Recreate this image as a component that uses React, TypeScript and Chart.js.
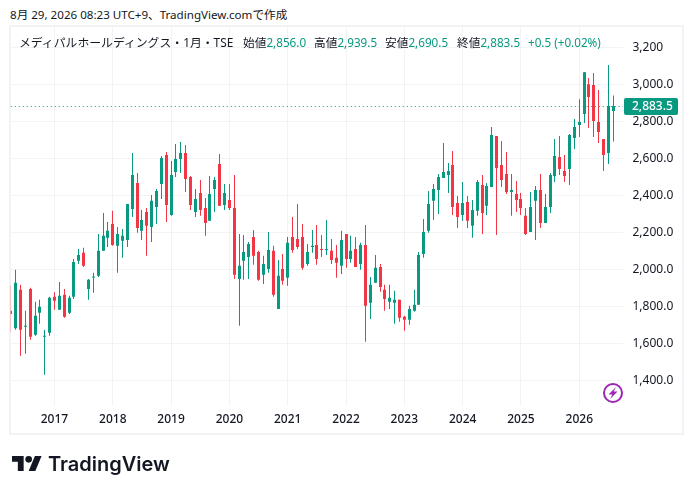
import { useEffect, useRef } from "react";
import { Chart, registerables } from "chart.js";

Chart.register(...registerables);

const UP = "#089981";
const DOWN = "#F23645";
const GRID = "#f2f3f5";
const TEXT = "#131722";

// monthly candles, Apr 2016 -> Aug 2026, two blank slots on the right
const months = [
  "2016-04","2016-05","2016-06","2016-07","2016-08","2016-09","2016-10","2016-11","2016-12",
  "2017-01","2017-02","2017-03","2017-04","2017-05","2017-06","2017-07","2017-08","2017-09","2017-10","2017-11","2017-12",
  "2018-01","2018-02","2018-03","2018-04","2018-05","2018-06","2018-07","2018-08","2018-09","2018-10","2018-11","2018-12",
  "2019-01","2019-02","2019-03","2019-04","2019-05","2019-06","2019-07","2019-08","2019-09","2019-10","2019-11","2019-12",
  "2020-01","2020-02","2020-03","2020-04","2020-05","2020-06","2020-07","2020-08","2020-09","2020-10","2020-11","2020-12",
  "2021-01","2021-02","2021-03","2021-04","2021-05","2021-06","2021-07","2021-08","2021-09","2021-10","2021-11","2021-12",
  "2022-01","2022-02","2022-03","2022-04","2022-05","2022-06","2022-07","2022-08","2022-09","2022-10","2022-11","2022-12",
  "2023-01","2023-02","2023-03","2023-04","2023-05","2023-06","2023-07","2023-08","2023-09","2023-10","2023-11","2023-12",
  "2024-01","2024-02","2024-03","2024-04","2024-05","2024-06","2024-07","2024-08","2024-09","2024-10","2024-11","2024-12",
  "2025-01","2025-02","2025-03","2025-04","2025-05","2025-06","2025-07","2025-08","2025-09","2025-10","2025-11","2025-12",
  "2026-01","2026-02","2026-03","2026-04","2026-05","2026-06","2026-07","2026-08","",""
];

const opens = [
  1776,1682,1889,1689,1894,1646,1765,1635,1657,
  1851,1781,1862,1765,1851,2046,2089,1894,1956,1965,2100,2170,
  2245,2127,2154,2159,2326,2467,2208,2310,2229,2337,2461,2618,
  2294,2526,2596,2629,2499,2310,2413,2332,2262,2434,2569,2348,
  2375,2332,1948,2046,2067,2175,2094,1970,2002,2100,1786,2002,
  1954,2175,2164,2175,2029,2121,2132,2110,2105,2100,2062,2019,
  2191,2056,2110,2029,2132,1819,1927,2013,1889,1824,1819,1835,
  1743,1727,1776,1808,2083,2208,2370,2429,2494,2510,2564,2359,
  2294,2364,2235,2316,2456,2343,2445,2721,2564,2515,2418,2407,
  2380,2289,2202,2370,2429,2251,2337,2505,2607,2532,2542,2710,
  2780,2839,3001,2996,2796,2704,2629,2856
];
const highs = [
  1911,1997,1916,1776,1900,1824,1835,1673,1851,
  1876,1932,1894,1857,2056,2110,2116,1948,1981,2191,2305,2256,
  2316,2229,2218,2353,2629,2521,2321,2332,2402,2434,2613,2634,
  2586,2677,2688,2672,2505,2434,2483,2386,2505,2499,2623,2461,
  2461,2510,2191,2186,2148,2213,2100,2073,2202,2127,2051,2083,
  2175,2283,2353,2245,2137,2213,2240,2186,2267,2164,2132,2208,
  2191,2181,2175,2143,2240,1959,2078,2029,1916,1916,1884,1835,
  1749,1803,1889,2094,2272,2424,2461,2515,2683,2575,2640,2397,
  2472,2397,2375,2483,2510,2467,2769,2721,2694,2634,2515,2478,
  2413,2332,2418,2451,2515,2407,2521,2704,2721,2618,2731,2812,
  2920,3066,3034,3061,2969,2704,3104,2939.5
];
const lows = [
  1659,1673,1533,1543,1619,1641,1705,1430,1641,
  1781,1781,1738,1759,1840,2029,2013,1835,1873,1959,2100,2121,
  2127,1981,2062,2121,2283,2197,2159,2073,2148,2245,2380,2256,
  2289,2499,2521,2418,2321,2283,2289,2181,2262,2310,2343,2321,
  2321,1948,1695,1943,1948,2024,1938,1921,1981,1851,1786,1916,
  1911,2089,2110,1997,2019,2089,2024,2067,2078,2029,1954,1975,
  2008,2035,2013,1997,1608,1732,1927,1878,1776,1786,1705,1716,
  1668,1700,1770,1808,2062,2197,2267,2299,2494,2413,2294,2224,
  2262,2224,2170,2289,2191,2294,2445,2186,2445,2407,2289,2310,
  2294,2186,2202,2159,2224,2251,2305,2472,2510,2472,2456,2650,
  2715,2791,2764,2715,2683,2532,2569,2690.5
];
const closes = [
  1759,1927,1673,1695,1635,1749,1797,1641,1846,
  1830,1857,1743,1846,2040,2078,2019,1943,1959,2100,2181,2208,
  2132,2191,2181,2353,2510,2224,2267,2235,2370,2424,2602,2348,
  2510,2596,2629,2488,2348,2380,2321,2251,2407,2483,2343,2413,
  2332,1970,2019,2094,2137,2073,1943,2029,2105,1862,1965,1938,
  2143,2105,2121,2008,2094,2127,2056,2105,2110,2051,2035,2159,
  2056,2100,2013,2132,1803,1916,2008,1905,1840,1846,1835,1738,
  1727,1786,1808,2078,2202,2353,2434,2499,2526,2532,2337,2283,
  2359,2262,2321,2472,2305,2451,2726,2548,2483,2418,2429,2375,
  2332,2191,2337,2429,2251,2337,2510,2613,2542,2505,2726,2769,
  2796,3066,2931,2802,2742,2618,2883,2883.5
];

const yTicks = [3200,3000,2800,2600,2400,2200,2000,1800,1600,1400];
const yLabels = ["3,200","3,000.0","2,800.0","2,600.0","2,400.0","2,200.0","2,000.0","1,800.0","1,600.0","1,400.0"];
const lastPrice = 2883.5;
const lastLabel = "2,883.5";

const legend = [
  { name: "始値", value: "2,856.0", left: 243 },
  { name: "高値", value: "2,939.5", left: 314 },
  { name: "安値", value: "2,690.5", left: 385 },
  { name: "終値", value: "2,883.5", left: 457 },
];

const font = '"Noto Sans", "Noto Sans CJK JP", sans-serif';

// snap candles to whole pixels like the original
const candleSnap = {
  id: "candleSnap",
  beforeDatasetsDraw(chart: any) {
    chart.data.datasets.forEach((_: any, i: number) => {
      chart.getDatasetMeta(i).data.forEach((el: any) => { el.x = Math.floor(el.x) + 0.5; });
    });
  },
};
// last price dotted line + tag
const lastPriceTag = {
  id: "lastPriceTag",
  afterDatasetsDraw(chart: any) {
    const { ctx, chartArea, scales } = chart;
    const y = Math.round(scales.y.getPixelForValue(lastPrice)) + 0.5;
    ctx.save();
    ctx.strokeStyle = UP;
    ctx.lineWidth = 1;
    ctx.setLineDash([1, 3]);
    ctx.beginPath();
    ctx.moveTo(chartArea.left, y);
    ctx.lineTo(chartArea.right, y);
    ctx.stroke();
    ctx.setLineDash([]);
    ctx.fillStyle = UP;
    ctx.beginPath();
    ctx.roundRect(chartArea.right + 1, y - 8.5, 54, 17, 2);
    ctx.fill();
    ctx.fillStyle = "#fff";
    ctx.font = `500 12px ${font}`;
    ctx.textBaseline = "middle";
    ctx.fillText(lastLabel, chartArea.right + 9, y + 0.5);
    ctx.restore();
  },
};

export default function App() {
  const canvasRef = useRef<HTMLCanvasElement | null>(null);

  useEffect(() => {
    if (!canvasRef.current) return;
    document.body.style.margin = "0";
    const colors = opens.map((o, i) => (closes[i] >= o ? UP : DOWN));
    const chart = new Chart(canvasRef.current, {
      type: "bar",
      data: {
        labels: months,
        datasets: [
          {
            label: "body",
            data: opens.map((o, i) => [o, closes[i]]) as any,
            backgroundColor: colors,
            barThickness: 3,
            minBarLength: 1,
            inflateAmount: 0,
            grouped: false,
          } as any,
          {
            label: "wick",
            data: lows.map((l, i) => [l, highs[i]]) as any,
            backgroundColor: colors,
            barThickness: 1,
            inflateAmount: 0,
            grouped: false,
          } as any,
        ],
      },
      options: {
        responsive: false,
        animation: false,
        events: [],
        layout: { padding: { left: 10.75, right: 0, top: 27, bottom: 60 } },
        plugins: { legend: { display: false }, tooltip: { enabled: false } },
        scales: {
          x: {
            offset: false,
            border: { display: false },
            grid: { color: GRID, drawTicks: false, offset: false },
            afterBuildTicks: (axis: any) => {
              axis.ticks = axis.ticks.filter((t: any) => months[t.value]?.endsWith("-01"));
            },
            afterFit: (axis: any) => { axis.height = 28; },
            ticks: {
              autoSkip: false,
              maxRotation: 0,
              padding: 6,
              color: TEXT,
              font: { family: font, size: 12, weight: 500 },
              callback: (v: any) => months[v].slice(0, 4),
            },
          },
          y: {
            position: "right",
            min: 1261,
            max: 3310,
            border: { display: false },
            grid: { color: GRID, drawTicks: false },
            afterBuildTicks: (axis: any) => {
              axis.ticks = yTicks.map((value) => ({ value }));
            },
            afterFit: (axis: any) => { axis.width = 70; },
            ticks: {
              padding: 9.5,
              color: TEXT,
              font: { family: font, size: 12 },
              callback: (v: any) => yLabels[yTicks.indexOf(v)],
            },
          },
        },
      },
      plugins: [candleSnap, lastPriceTag],
    });
    return () => chart.destroy();
  }, []);

  return (
    <div style={{ position: "absolute", left: 0, top: 0, width: 693, height: 494, background: "#fff", fontFamily: font, color: TEXT, overflow: "hidden" }}>
      <div style={{ position: "absolute", left: 10, top: 6, fontSize: 11.6, lineHeight: "18px", whiteSpace: "nowrap" }}>
        8月 29, 2026 08:23 UTC+9、TradingView.comで作成
      </div>
      <div style={{ position: "absolute", left: 9, top: 25, width: 675, height: 410, boxSizing: "border-box", border: "2px solid #f2f3f5" }} />
      <canvas ref={canvasRef} width={693} height={494} style={{ position: "absolute", left: 0, top: 0 }} />
      <div style={{ position: "absolute", left: 19, top: 33, fontSize: 11.85, lineHeight: "18px", whiteSpace: "nowrap" }}>
        メディパルホールディングス・1月・TSE
      </div>
      {legend.map((l) => (
        <div key={l.name} style={{ position: "absolute", left: l.left, top: 33, fontSize: 11.7, lineHeight: "18px", whiteSpace: "nowrap" }}>
          {l.name}<span style={{ color: UP }}>{l.value}</span>
        </div>
      ))}
      <div style={{ position: "absolute", left: 528, top: 33, fontSize: 11.7, lineHeight: "18px", whiteSpace: "nowrap", color: UP }}>
        +0.5 (+0.02%)
      </div>
      <svg width={22} height={22} viewBox="0 0 22 22" style={{ position: "absolute", left: 602, top: 382 }}>
        <circle cx={11} cy={11} r={9} fill="#fff" stroke="#9C27B0" strokeWidth={2} />
        <path d="M14 5 6.5 12.4h3.8L8.2 17l7.3-7.4h-3.8z" fill="#9C27B0" />
      </svg>
      <svg width={30} height={15} viewBox="0 4 36 18" style={{ position: "absolute", left: 12, top: 456 }}>
        <path d="M14 22H7V11H0V4h14v18zM28 22h-8l7.5-18h8L28 22z" fill={TEXT} />
        <circle cx={20} cy={8} r={4} fill={TEXT} />
      </svg>
      <div style={{ position: "absolute", left: 48, top: 451, fontFamily: "Inter, sans-serif", fontWeight: 600, fontSize: 20, lineHeight: "26px", whiteSpace: "nowrap" }}>
        TradingView
      </div>
    </div>
  );
}
